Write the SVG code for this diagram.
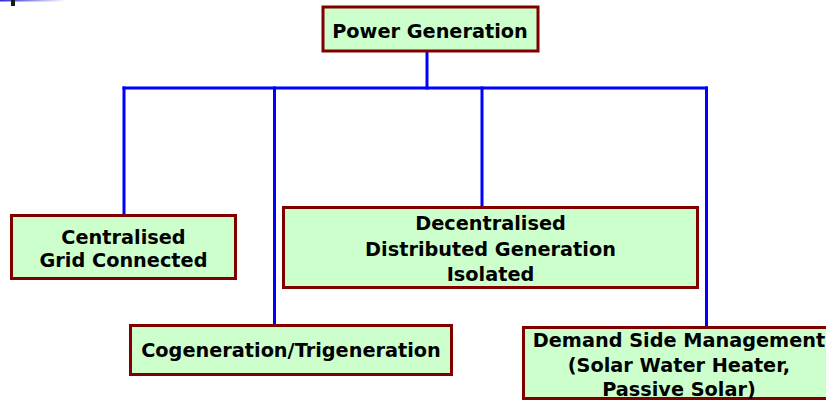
<svg xmlns="http://www.w3.org/2000/svg" width="826" height="400" viewBox="0 0 826 400">
  <defs>
    <linearGradient id="topRule" x1="0" y1="0" x2="1" y2="0">
      <stop offset="0" stop-color="#2b2bd6"/>
      <stop offset="1" stop-color="#2b2bd6" stop-opacity="0"/>
    </linearGradient>
  </defs>
  <style>
    .box { fill: #ccffcc; stroke: #800000; stroke-width: 3; }
    .lbl { font-family: "DejaVu Sans", Verdana, sans-serif; font-weight: bold; font-size: 19.3px; fill: #000; text-anchor: middle; }
    .wire { stroke: #0000ff; stroke-width: 3; fill: none; stroke-linecap: square; }
  </style>
  <rect width="826" height="400" fill="#ffffff"/>

  <!-- corner ornament -->
  <rect x="0" y="0" width="66" height="1.5" fill="url(#topRule)"/>
  <rect x="11" y="0" width="4" height="6" fill="#1a1a1a"/>

  <g id="connectors">
    <path class="wire" d="M427 53 V88"/>
    <path class="wire" d="M124 88 H706.5"/>
    <path class="wire" d="M124 88 V214"/>
    <path class="wire" d="M274.5 88 V324"/>
    <path class="wire" d="M482 88 V206"/>
    <path class="wire" d="M706.5 88 V326"/>
  </g>

  <g id="power-generation">
    <rect class="box" x="323" y="7" width="215" height="44"/>
    <text class="lbl" x="430" y="37.5">Power Generation</text>
  </g>

  <g id="centralised">
    <rect class="box" x="11.5" y="215.5" width="224" height="63"/>
    <text class="lbl" x="123.5" y="243.5">Centralised</text>
    <text class="lbl" x="123.5" y="267">Grid Connected</text>
  </g>

  <g id="decentralised">
    <rect class="box" x="283.5" y="207.5" width="414" height="80"/>
    <text class="lbl" x="490.5" y="229.5">Decentralised</text>
    <text class="lbl" x="490.5" y="255.5">Distributed Generation</text>
    <text class="lbl" x="490.5" y="281">Isolated</text>
  </g>

  <g id="cogeneration">
    <rect class="box" x="130.5" y="325.5" width="321" height="49"/>
    <text class="lbl" x="291" y="357">Cogeneration/Trigeneration</text>
  </g>

  <g id="demand-side">
    <rect class="box" x="523.5" y="327.5" width="312" height="71"/>
    <text class="lbl" x="679" y="346.5">Demand Side Management</text>
    <text class="lbl" x="679" y="371.5">(Solar Water Heater,</text>
    <text class="lbl" x="679" y="396">Passive Solar)</text>
  </g>
</svg>
